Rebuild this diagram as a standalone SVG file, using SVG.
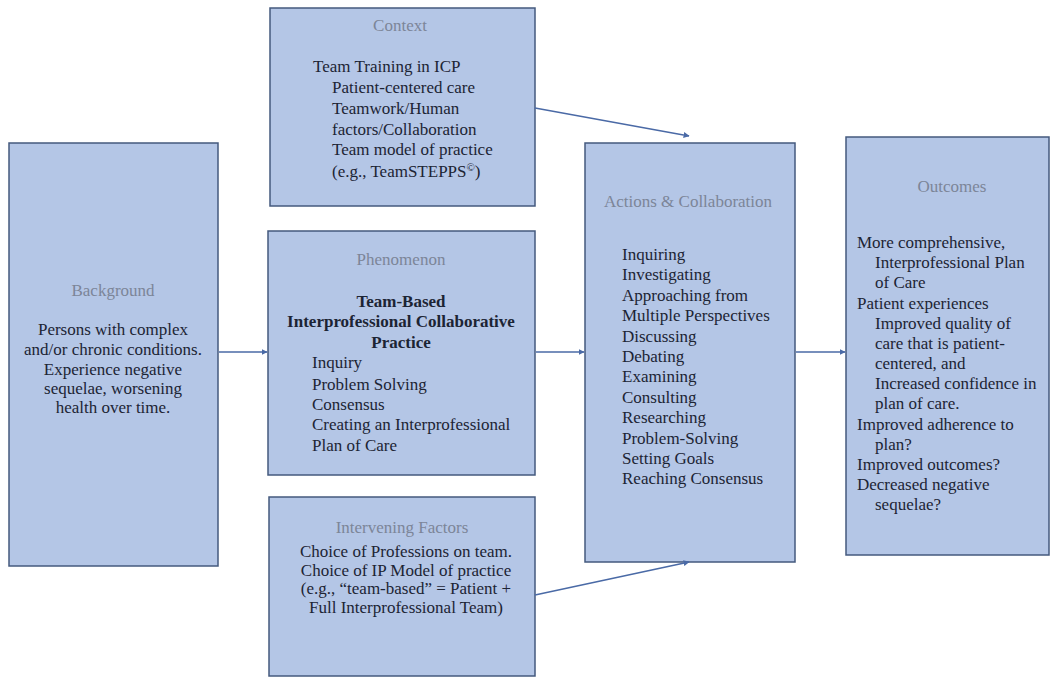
<svg xmlns="http://www.w3.org/2000/svg" width="1051" height="677" viewBox="0 0 1051 677">
<style>
.box{fill:#b4c6e6;stroke:#44597e;stroke-width:1.5}
.t{font-family:"Liberation Serif",serif;font-size:17px;fill:#1c2434}
.ttl{font-family:"Liberation Serif",serif;font-size:17px;fill:#7c8598;text-anchor:middle}
.c{text-anchor:middle}
.b{font-weight:bold}
.conn{stroke:#4a6aa6;stroke-width:1.6;fill:none;marker-end:url(#ah)}
</style>
<defs>
<marker id="ah" viewBox="0 0 10 10" refX="9" refY="5" markerWidth="6" markerHeight="6" markerUnits="userSpaceOnUse" orient="auto">
<path d="M0,0 L10,5 L0,10 Z" fill="#4a6aa6"/>
</marker>
</defs>
<rect width="1051" height="677" fill="#ffffff"/>
<g id="background">
<rect class="box" x="9" y="143" width="209" height="423"/>
<text class="ttl" x="113" y="296">Background</text>
<text class="t c" x="113" y="335">Persons with complex</text>
<text class="t c" x="113" y="355">and/or chronic conditions.</text>
<text class="t c" x="113" y="375">Experience negative</text>
<text class="t c" x="113" y="394">sequelae, worsening</text>
<text class="t c" x="113" y="413">health over time.</text>
</g>
<g id="context">
<rect class="box" x="270" y="8" width="265" height="198"/>
<text class="ttl" x="400" y="31">Context</text>
<text class="t" x="313" y="72">Team Training in ICP</text>
<text class="t" x="332" y="93">Patient-centered care</text>
<text class="t" x="332" y="114">Teamwork/Human</text>
<text class="t" x="332" y="135">factors/Collaboration</text>
<text class="t" x="332" y="155">Team model of practice</text>
<text class="t" x="332" y="177">(e.g., TeamSTEPPS<tspan font-size="11" dy="-6">©</tspan><tspan dy="6">)</tspan></text>
</g>
<g id="phenomenon">
<rect class="box" x="268" y="231" width="267" height="244"/>
<text class="ttl" x="401" y="265">Phenomenon</text>
<text class="t c b" x="401" y="307">Team-Based</text>
<text class="t c b" x="401" y="327">Interprofessional Collaborative</text>
<text class="t c b" x="401" y="348">Practice</text>
<text class="t" x="312" y="368">Inquiry</text>
<text class="t" x="312" y="390">Problem Solving</text>
<text class="t" x="312" y="410">Consensus</text>
<text class="t" x="312" y="430">Creating an Interprofessional</text>
<text class="t" x="312" y="451">Plan of Care</text>
</g>
<g id="intervening">
<rect class="box" x="269" y="497" width="266" height="179"/>
<text class="ttl" x="402" y="533">Intervening Factors</text>
<text class="t c" x="406" y="557">Choice of Professions on team.</text>
<text class="t c" x="406" y="576">Choice of IP Model of practice</text>
<text class="t c" x="406" y="594">(e.g., “team-based” = Patient +</text>
<text class="t c" x="406" y="613">Full Interprofessional Team)</text>
</g>
<g id="actions">
<rect class="box" x="585" y="143" width="210" height="419"/>
<text class="ttl" x="688" y="207">Actions &amp; Collaboration</text>
<text class="t" x="622" y="260">Inquiring</text>
<text class="t" x="622" y="280.4">Investigating</text>
<text class="t" x="622" y="300.8">Approaching from</text>
<text class="t" x="622" y="321.2">Multiple Perspectives</text>
<text class="t" x="622" y="341.6">Discussing</text>
<text class="t" x="622" y="362">Debating</text>
<text class="t" x="622" y="382.4">Examining</text>
<text class="t" x="622" y="402.8">Consulting</text>
<text class="t" x="622" y="423.2">Researching</text>
<text class="t" x="622" y="443.6">Problem-Solving</text>
<text class="t" x="622" y="464">Setting Goals</text>
<text class="t" x="622" y="484.4">Reaching Consensus</text>
</g>
<g id="outcomes">
<rect class="box" x="846" y="137" width="203" height="418"/>
<text class="ttl" x="952" y="192">Outcomes</text>
<text class="t" x="857" y="248">More comprehensive,</text>
<text class="t" x="875" y="268">Interprofessional Plan</text>
<text class="t" x="875" y="288">of Care</text>
<text class="t" x="857" y="308.5">Patient experiences</text>
<text class="t" x="875" y="328.5">Improved quality of</text>
<text class="t" x="875" y="348.5">care that is patient-</text>
<text class="t" x="875" y="369">centered, and</text>
<text class="t" x="875" y="389">Increased confidence in</text>
<text class="t" x="875" y="409">plan of care.</text>
<text class="t" x="857" y="429.5">Improved adherence to</text>
<text class="t" x="875" y="449.5">plan?</text>
<text class="t" x="857" y="469.5">Improved outcomes?</text>
<text class="t" x="857" y="490">Decreased negative</text>
<text class="t" x="875" y="510">sequelae?</text>
</g>
<g id="connectors">
<line class="conn" x1="219" y1="352" x2="267" y2="352"/>
<line class="conn" x1="535" y1="108" x2="689" y2="136"/>
<line class="conn" x1="536" y1="352" x2="584" y2="352"/>
<line class="conn" x1="535" y1="595" x2="689" y2="562"/>
<line class="conn" x1="796" y1="352" x2="845" y2="352"/>
</g>
</svg>
